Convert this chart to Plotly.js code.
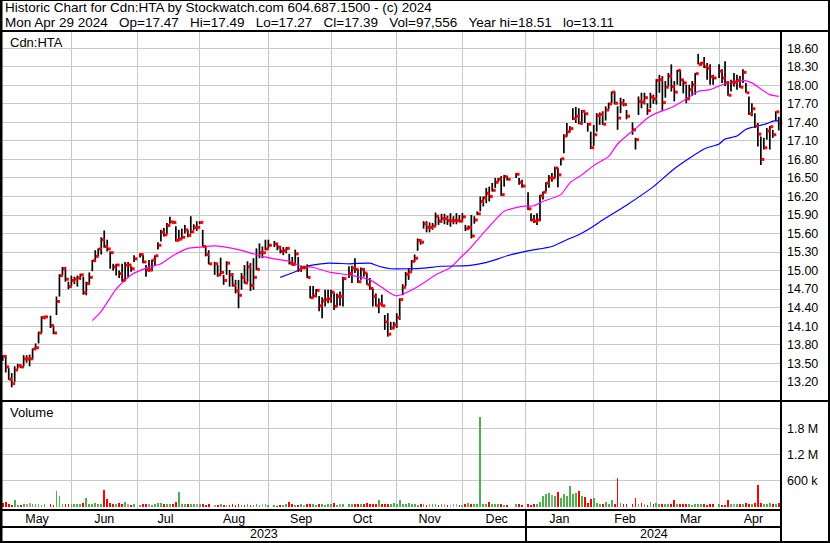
<!DOCTYPE html>
<html><head><meta charset="utf-8">
<script src="https://cdn.plot.ly/plotly-3.0.1.min.js"></script>
<style>html,body{margin:0;padding:0;background:#fff;}#chart{width:830px;height:543px;}</style>
</head><body><div id="chart"></div>
<script>
// ---- DATA ----
const holidays = ['2023-05-22','2023-07-03','2023-08-07','2023-09-04','2023-10-09','2023-12-25','2023-12-26','2024-01-01','2024-02-19','2024-03-29'];
const firstDay = '2023-05-01', lastDay = '2024-04-29';

const closes = [
 13.61,13.44,13.24,13.17,13.39,13.46,13.44,13.57,13.57,13.57,13.73,13.75,13.99,14.24,14.25,14.11,13.99,14.50,14.92,15.03,14.86,14.74,
 14.84,14.86,14.88,14.93,14.64,14.79,14.89,15.16,15.23,15.35,15.50,15.39,15.35,15.29,15.06,15.09,14.95,14.84,15.09,15.09,15.03,15.19,
 15.26,15.14,15.01,15.01,15.17,15.24,15.41,15.62,15.58,15.73,15.79,15.78,15.49,15.51,15.54,15.66,15.57,15.63,15.70,15.70,
 15.78,15.39,15.26,15.11,15.11,14.93,14.97,14.84,15.12,14.93,14.76,14.67,14.60,14.89,14.80,15.06,14.76,14.89,15.02,15.29,15.29,15.35,
 15.41,15.43,15.38,15.31,15.32,15.36,15.12,15.10,15.27,15.01,15.05,15.05,14.89,14.56,14.59,14.68,14.43,14.51,14.53,14.54,
 14.65,14.42,14.58,14.58,14.87,14.95,15.04,15.02,14.82,15.02,14.96,14.77,14.71,14.58,14.43,14.46,14.43,14.17,13.97,14.07,14.12,
 14.24,14.53,14.73,14.94,14.98,15.15,15.20,15.49,15.46,15.76,15.70,15.70,15.72,15.88,15.80,15.84,15.84,15.81,15.81,15.81,15.81,15.80,
 15.87,15.68,15.70,15.56,15.82,15.92,16.12,16.18,16.25,16.20,16.30,16.43,16.48,16.23,16.52,16.48,16.56,16.43,16.37,
 16.00,15.82,15.80,15.82,16.21,16.27,16.42,16.50,16.50,16.66,16.55,16.81,17.18,17.25,17.30,17.46,17.50,17.39,17.58,17.54,17.37,16.99,
 17.20,17.51,17.53,17.37,17.60,17.70,17.89,17.71,17.47,17.71,17.69,17.50,17.28,17.12,17.74,17.73,17.80,17.59,17.81,17.78,
 18.08,18.09,17.72,17.97,18.15,17.98,17.89,18.24,18.09,18.04,17.78,17.93,18.01,18.19,18.34,18.36,18.30,18.28,18.14,18.12,
 18.23,18.12,18.04,17.84,18.05,18.05,18.08,17.97,18.21,17.88,17.54,17.62,17.34,17.21,16.80,16.99,17.26,17.33,17.20,17.57,17.39
];
const highs = [
 13.63,13.63,13.42,13.34,13.45,13.49,13.48,13.63,13.63,13.64,13.74,13.82,14.01,14.26,14.27,14.27,14.11,14.58,14.94,15.06,15.06,14.82,
 14.92,14.90,14.92,14.95,14.90,14.82,14.97,15.17,15.33,15.36,15.54,15.65,15.50,15.31,15.11,15.11,15.00,15.11,15.14,15.14,15.07,15.25,
 15.28,15.26,15.09,15.17,15.18,15.25,15.46,15.66,15.69,15.77,15.87,15.80,15.72,15.66,15.68,15.74,15.66,15.88,15.75,15.80,
 15.80,15.66,15.39,15.33,15.14,15.09,15.21,14.93,15.15,15.01,14.96,14.85,14.85,14.96,15.09,15.15,15.12,15.20,15.36,15.44,15.39,15.50,
 15.50,15.48,15.45,15.40,15.38,15.38,15.27,15.22,15.34,15.22,15.08,15.08,15.10,14.75,14.75,14.70,14.59,14.57,14.69,14.69,
 14.69,14.64,14.63,14.66,14.90,15.07,15.08,15.20,15.02,15.05,15.04,14.96,14.88,14.71,14.63,14.55,14.61,14.28,14.31,14.17,14.17,
 14.31,14.55,14.78,14.98,15.04,15.17,15.26,15.52,15.51,15.80,15.80,15.78,15.77,15.94,15.87,15.92,15.92,15.89,15.93,15.88,15.93,15.90,
 15.93,15.74,15.73,15.90,15.88,15.96,16.20,16.20,16.34,16.36,16.42,16.50,16.50,16.53,16.55,16.53,16.58,16.50,16.47,
 16.27,15.93,15.90,15.93,16.23,16.28,16.43,16.55,16.58,16.68,16.66,16.82,17.21,17.39,17.34,17.63,17.65,17.63,17.60,17.56,17.39,17.25,
 17.36,17.55,17.56,17.58,17.66,17.72,17.90,17.90,17.66,17.80,17.78,17.60,17.40,17.15,17.82,17.88,17.88,17.71,17.88,17.85,
 18.10,18.17,18.15,18.07,18.20,18.34,18.07,18.25,18.25,18.09,18.01,18.01,18.07,18.20,18.51,18.38,18.46,18.36,18.34,18.17,
 18.34,18.26,18.39,18.07,18.09,18.20,18.17,18.15,18.26,18.04,17.82,17.71,17.55,17.39,17.17,17.15,17.31,17.34,17.28,17.58,17.49
];
const lows = [
 13.54,13.35,13.23,13.11,13.20,13.41,13.42,13.45,13.51,13.45,13.56,13.73,13.82,13.99,14.21,14.07,13.97,14.28,14.58,14.92,14.82,14.70,
 14.75,14.78,14.74,14.85,14.61,14.60,14.77,14.99,15.14,15.23,15.26,15.37,15.31,15.03,15.00,14.92,14.88,14.82,14.84,14.89,14.98,15.14,
 15.21,15.12,14.90,14.98,14.99,15.08,15.34,15.47,15.55,15.59,15.76,15.76,15.47,15.48,15.51,15.60,15.54,15.60,15.66,15.64,
 15.75,15.38,15.23,15.10,14.93,14.90,14.93,14.77,14.93,14.74,14.74,14.63,14.39,14.69,14.79,14.82,14.67,14.69,15.01,15.20,15.20,15.33,
 15.36,15.38,15.33,15.28,15.25,15.28,15.10,15.08,15.12,14.98,14.98,15.02,14.88,14.55,14.56,14.57,14.34,14.23,14.42,14.47,
 14.48,14.36,14.42,14.43,14.42,14.88,14.80,14.96,14.80,14.85,14.90,14.77,14.69,14.42,14.42,14.31,14.42,14.04,13.93,14.04,14.05,
 14.07,14.20,14.60,14.75,14.85,15.00,15.14,15.32,15.42,15.68,15.62,15.62,15.66,15.72,15.74,15.77,15.75,15.74,15.71,15.75,15.75,15.78,
 15.79,15.64,15.66,15.52,15.76,15.90,15.96,16.04,16.09,16.12,16.28,16.34,16.44,16.21,16.36,16.46,16.50,16.39,16.34,
 15.98,15.80,15.77,15.74,15.80,16.15,16.28,16.34,16.44,16.50,16.35,16.70,16.90,17.17,17.24,17.44,17.39,17.37,17.36,17.39,17.25,16.97,
 17.02,17.25,17.36,17.36,17.43,17.61,17.71,17.69,17.28,17.55,17.66,17.45,17.20,16.96,17.52,17.63,17.69,17.52,17.63,17.70,
 17.69,17.88,17.59,17.80,17.98,17.90,17.74,18.01,17.99,17.87,17.71,17.77,17.83,17.85,18.34,18.32,18.28,18.09,18.01,18.01,
 18.12,18.04,17.99,17.83,17.90,17.98,17.93,17.96,18.04,17.88,17.52,17.50,17.31,17.01,16.71,16.96,17.12,16.96,17.15,17.42,17.27
];
// volume in thousands of shares
const volumeK = [
 90,120,60,40,160,50,40,60,80,90,70,60,60,50,60,70,50,366,250,80,60,60,
 60,80,70,60,100,200,70,80,90,70,80,390,180,90,70,60,90,80,120,60,40,80,
 50,60,70,60,50,70,90,100,60,70,80,60,120,340,80,60,70,60,80,60,
 60,70,50,60,50,40,60,50,40,50,60,40,70,50,40,60,50,40,60,50,60,70,
 40,50,30,40,50,60,120,70,50,40,60,50,70,60,80,50,60,70,50,60,
 60,90,50,60,70,60,80,70,60,70,60,90,60,80,70,160,60,80,70,60,90,
 60,160,80,70,90,60,70,50,80,60,50,70,60,80,50,70,60,50,40,60,70,50,
 50,60,90,60,70,80,2050,80,60,110,70,60,70,80,50,40,60,70,50,
 60,50,60,70,120,260,300,320,280,250,350,200,300,250,480,300,330,370,250,220,100,180,
 200,90,60,80,110,70,150,60,670,90,80,60,70,200,80,100,60,50,110,70,
 90,70,60,60,80,70,150,60,70,80,60,70,50,60,80,60,70,50,60,70,
 60,50,40,150,60,70,80,60,70,90,60,80,100,500,90,60,70,100,80,60,97.556
];
// moving averages
const maPinkDates = ['2023-06-12','2023-06-15','2023-06-22','2023-06-29','2023-07-06','2023-07-13','2023-07-19','2023-07-26','2023-08-01','2023-08-08','2023-08-16','2023-08-23','2023-08-30','2023-09-05','2023-09-12','2023-09-18','2023-09-22','2023-10-02','2023-10-10','2023-10-19','2023-10-25','2023-10-30','2023-11-01','2023-11-07','2023-11-14','2023-11-20','2023-11-27','2023-12-01','2023-12-05','2023-12-13','2023-12-21','2023-12-27','2023-12-29','2024-01-04','2024-01-09','2024-01-17','2024-01-22','2024-01-26','2024-02-01','2024-02-08','2024-02-13','2024-02-16','2024-02-22','2024-02-27','2024-03-01','2024-03-08','2024-03-15','2024-03-21','2024-03-27','2024-04-02','2024-04-05','2024-04-11','2024-04-16','2024-04-19','2024-04-24','2024-04-29'];
const maPinkVals = [14.19,14.34,14.70,14.93,15.04,15.11,15.24,15.36,15.38,15.40,15.36,15.30,15.23,15.19,15.15,15.07,15.05,14.97,14.93,14.85,14.73,14.63,14.59,14.66,14.80,14.93,15.05,15.24,15.33,15.66,15.96,16.02,16.04,16.05,16.12,16.23,16.42,16.55,16.70,16.85,17.05,17.18,17.34,17.47,17.55,17.64,17.78,17.90,17.93,18.01,18.05,18.08,18.04,17.94,17.85,17.82];
const maBlueDates = ['2023-09-07','2023-09-14','2023-09-20','2023-09-29','2023-10-10','2023-10-19','2023-10-24','2023-10-30','2023-11-07','2023-11-14','2023-11-22','2023-12-05','2023-12-12','2023-12-19','2023-12-22','2024-01-02','2024-01-12','2024-01-19','2024-01-25','2024-01-30','2024-02-07','2024-02-16','2024-02-29','2024-03-11','2024-03-25','2024-04-01','2024-04-03','2024-04-09','2024-04-12','2024-04-16','2024-04-23','2024-04-25','2024-04-29'];
const maBlueVals = [14.89,14.98,15.07,15.12,15.11,15.12,15.07,15.03,15.03,15.04,15.07,15.08,15.12,15.19,15.24,15.32,15.39,15.50,15.58,15.66,15.85,16.06,16.36,16.65,16.97,17.05,17.13,17.18,17.29,17.32,17.38,17.42,17.43];
const priceTickLabels = ['13.20','13.50','13.80','14.10','14.40','14.70','15.00','15.30','15.60','15.90','16.20','16.50','16.80','17.10','17.40','17.70','18.00','18.30','18.60'];
const volTickVals = [600000,1200000,1800000];
const volTickLabels = ['600 k','1.2 M','1.8 M'];
const headerLine1 = 'Historic Chart for Cdn:HTA by Stockwatch.com 604.687.1500 - (c) 2024';
const headerLine2 = 'Mon Apr 29 2024   Op=17.47   Hi=17.49   Lo=17.27   Cl=17.39   Vol=97,556   Year hi=18.51   lo=13.11';
const symbolLabel = 'Cdn:HTA';
const volumeLabel = 'Volume';
const years = ['2023','2024'];

// ---- trading calendar ----
function tradingDates(){
  const hol = new Set(holidays), out = [];
  let t = Date.parse(firstDay+'T00:00:00Z'); const end = Date.parse(lastDay+'T00:00:00Z');
  while (t <= end){
    const d = new Date(t), wd = d.getUTCDay(), s = d.toISOString().slice(0,10);
    if (wd !== 0 && wd !== 6 && !hol.has(s)) out.push(s);
    t += 86400000;
  }
  return out;
}
const dates = tradingDates();
if (dates.length !== closes.length || highs.length !== closes.length || lows.length !== closes.length || volumeK.length !== closes.length){
  throw new Error('length mismatch '+dates.length+' '+closes.length+' '+highs.length+' '+lows.length+' '+volumeK.length);
}

// ---- geometry helpers (pixel -> paper) ----
const W = 830, H = 543;
const px = x => x / W, py = y => 1 - y / H;

// ---- traces ----
const hlX = [], hlY = [];
dates.forEach((d,i) => { hlX.push(d, d, null); hlY.push(highs[i], lows[i], null); });
const hlTrace = {type:'scatter', mode:'lines', x:hlX, y:hlY, xaxis:'x', yaxis:'y',
  line:{color:'#000000', width:1.7}, hoverinfo:'skip', connectgaps:false};
const closeTrace = {type:'scatter', mode:'markers', x:dates.map(d => d+' 16:00'), y:closes, xaxis:'x', yaxis:'y',
  marker:{symbol:'square', size:3, color:'#ff0000', line:{width:0}}, hoverinfo:'skip', cliponaxis:false};
const pinkTrace = {type:'scatter', mode:'lines', x:maPinkDates, y:maPinkVals, xaxis:'x', yaxis:'y',
  line:{color:'#ff00ff', width:1.2, shape:'spline', smoothing:0.6}, hoverinfo:'skip'};
const blueTrace = {type:'scatter', mode:'lines', x:maBlueDates, y:maBlueVals, xaxis:'x', yaxis:'y',
  line:{color:'#0000ff', width:1.2, shape:'spline', smoothing:0.6}, hoverinfo:'skip'};
const volColors = closes.map((c,i) => i === 0 ? '#ff0000' : (c > closes[i-1] ? '#4cb04c' : (c < closes[i-1] ? '#ff0000' : '#a0a0a0')));
const volTrace = {type:'bar', x:dates, y:volumeK.map(v => v*1000), xaxis:'x', yaxis:'y2',
  marker:{color:volColors, line:{width:0}}, width:0.6*86400000, hoverinfo:'skip'};

// ---- layout ----
const black = '#000000';
const hline = (y, x0, x1, w) => ({type:'line', xref:'paper', yref:'paper', x0:px(x0), x1:px(x1), y0:py(y), y1:py(y), line:{color:black, width:w}});
const vline = (x, y0, y1, w) => ({type:'line', xref:'paper', yref:'paper', x0:px(x), x1:px(x), y0:py(y0), y1:py(y1), line:{color:black, width:w}});
const font = 'Liberation Sans, Arial, sans-serif';

const layout = {
  width:W, height:H, margin:{l:0,r:0,t:0,b:0}, paper_bgcolor:'#ffffff', plot_bgcolor:'#ffffff',
  showlegend:false, hovermode:false, bargap:0,
  font:{family:font, size:12, color:black},
  xaxis:{type:'date', domain:[px(2), px(781)], range:['2023-04-28 18:00','2024-04-29 18:00'],
    rangebreaks:[{bounds:['sat','mon']}], anchor:'y2', tick0:'2023-05-01', dtick:'M1', tickformat:'%b',
    ticklabelmode:'period', showgrid:true, gridcolor:'#c8c8c8', gridwidth:1, ticks:'', showline:false, zeroline:false,
    tickfont:{family:font, size:12.5, color:black}, ticklabelstandoff:0},
  yaxis:{domain:[py(400), py(32)], range:[12.904, 18.864], side:'right', anchor:'x',
    tickvals:priceTickLabels.map(Number), ticktext:priceTickLabels, showgrid:true, gridcolor:'#c8c8c8', gridwidth:1,
    ticks:'', zeroline:false, showline:false, tickfont:{family:font, size:12.5, color:black}, ticklabelstandoff:5},
  yaxis2:{domain:[py(509), py(402)], range:[-46000, 2404000], side:'right', anchor:'x',
    tickvals:volTickVals, ticktext:volTickLabels, showgrid:true, gridcolor:'#c8c8c8', gridwidth:1,
    ticks:'', zeroline:false, showline:false, tickfont:{family:font, size:12.5, color:black}, ticklabelstandoff:5},
  shapes:[
    vline(1, 0, 543, 3), vline(829, 0, 543, 2), hline(542, 0, 830, 2), hline(0.5, 0, 830, 1),
    hline(31, 0, 830, 2), hline(401, 0, 830, 2), hline(510, 0, 781, 2), hline(527, 0, 781, 2),
    vline(781, 31, 543, 2), vline(526, 510, 542, 2)
  ],
  annotations:[
    {xref:'paper', yref:'paper', x:px(3), y:py(8), xanchor:'left', yanchor:'middle', showarrow:false,
      text:headerLine1.replace(/ {2,}/g, m => '\u00a0'.repeat(m.length)), font:{family:font, size:13.5, color:black}},
    {xref:'paper', yref:'paper', x:px(3), y:py(22), xanchor:'left', yanchor:'middle', showarrow:false,
      text:headerLine2.replace(/ {2,}/g, m => '\u00a0'.repeat(m.length)), font:{family:font, size:13.5, color:black}},
    {xref:'paper', yref:'paper', x:px(8), y:py(42), xanchor:'left', yanchor:'middle', showarrow:false,
      text:symbolLabel, font:{family:font, size:13, color:black}},
    {xref:'paper', yref:'paper', x:px(8), y:py(413), xanchor:'left', yanchor:'middle', showarrow:false,
      text:volumeLabel, font:{family:font, size:13, color:black}},
    {xref:'paper', yref:'paper', x:px((2+526)/2), y:py(534), xanchor:'center', yanchor:'middle', showarrow:false,
      text:years[0], font:{family:font, size:12.5, color:black}},
    {xref:'paper', yref:'paper', x:px((526+781)/2), y:py(534), xanchor:'center', yanchor:'middle', showarrow:false,
      text:years[1], font:{family:font, size:12.5, color:black}}
  ]
};

Plotly.newPlot('chart', [hlTrace, pinkTrace, blueTrace, closeTrace, volTrace], layout, {displayModeBar:false, staticPlot:true});
</script></body></html>
